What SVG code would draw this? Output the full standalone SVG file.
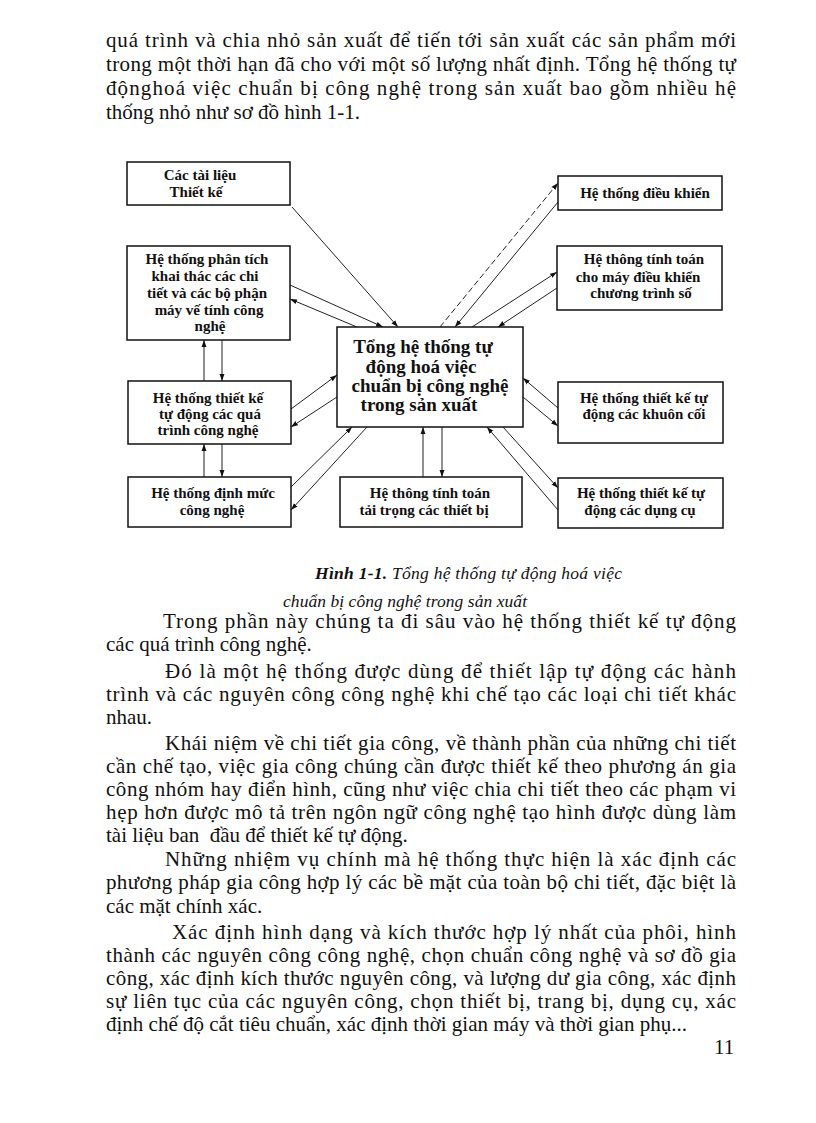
<svg xmlns="http://www.w3.org/2000/svg" width="816" height="1123" viewBox="0 0 816 1123">
<defs>
<marker id="ah" viewBox="0 0 10 10" refX="10" refY="5" markerWidth="7" markerHeight="7" markerUnits="userSpaceOnUse" orient="auto">
<path d="M0,1.5 L10,5 L0,8.5 Z" fill="#111"/>
</marker>
<style>
.body{font-family:"Liberation Serif","Times New Roman",serif;font-size:21px;fill:#111}
.cap{font-family:"Liberation Serif","Times New Roman",serif;font-size:17.5px;font-style:italic;fill:#111}
.box{fill:#fff;stroke:#111;stroke-width:1.5}
.bt{font-family:"Liberation Serif","Times New Roman",serif;font-size:15px;font-weight:bold;fill:#111;text-anchor:middle}
.ct{font-family:"Liberation Serif","Times New Roman",serif;font-size:19px;font-weight:bold;fill:#111;text-anchor:middle}
.cn{fill:none;stroke:#222;stroke-width:1;marker-end:url(#ah)}
</style>
</defs>
<rect width="816" height="1123" fill="#fff"/>

<g id="para1" class="body">
<text x="106" y="47" textLength="630" lengthAdjust="spacing">quá trình và chia nhỏ sản xuất để tiến tới sản xuất các sản phẩm mới</text>
<text x="106" y="71" textLength="630" lengthAdjust="spacing">trong một thời hạn đã cho với một số lượng nhất định. Tổng hệ thống tự</text>
<text x="106" y="95" textLength="630" lengthAdjust="spacing">độnghoá việc chuẩn bị công nghệ trong sản xuất bao gồm nhiều hệ</text>
<text x="106" y="119">thống nhỏ như sơ đồ hình 1-1.</text>
</g>

<g id="connectors">
<path class="cn" d="M292,207 L398,327"/>
<path class="cn" d="M290,285 L383,327"/>
<path class="cn" d="M357,327 L290,299"/>
<path class="cn" d="M440,327 L558,183" stroke-dasharray="6 3"/>
<path class="cn" d="M558,202 L455,327"/>
<path class="cn" d="M472,327 L557,272"/>
<path class="cn" d="M557,288 L498,327"/>
<path class="cn" d="M291,409 L337,375"/>
<path class="cn" d="M337,397 L291,427"/>
<path class="cn" d="M291,487 L352,427"/>
<path class="cn" d="M367,427 L291,510"/>
<path class="cn" d="M204,381 L204,340"/>
<path class="cn" d="M222,340 L222,381"/>
<path class="cn" d="M204,477 L204,444"/>
<path class="cn" d="M222,444 L222,477"/>
<path class="cn" d="M423,477 L423,427"/>
<path class="cn" d="M442,427 L442,477"/>
<path class="cn" d="M558,408 L523,378"/>
<path class="cn" d="M523,397 L558,426"/>
<path class="cn" d="M503,427 L558,488"/>
<path class="cn" d="M558,510 L487,427"/>
</g>

<g id="n-tailieu">
<rect class="box" x="127" y="162" width="163" height="43"/>
<text class="bt" x="200" y="180">Các tài liệu</text>
<text class="bt" x="196" y="197">Thiết kế</text>
</g>

<g id="n-phantich">
<rect class="box" x="127" y="246" width="163" height="94"/>
<text class="bt" x="207" y="264">Hệ thống phân tích</text>
<text class="bt" x="205" y="281">khai thác các chi</text>
<text class="bt" x="207" y="298">tiết và các bộ phận</text>
<text class="bt" x="209" y="315">máy vế tính công</text>
<text class="bt" x="210" y="331">nghệ</text>
</g>

<g id="n-quatrinh">
<rect class="box" x="128" y="381" width="163" height="63"/>
<text class="bt" x="208" y="403">Hệ thống thiết kế</text>
<text class="bt" x="210" y="419">tự động các quá</text>
<text class="bt" x="208" y="435">trình công nghệ</text>
</g>

<g id="n-dinhmuc">
<rect class="box" x="128" y="477" width="163" height="50"/>
<text class="bt" x="213" y="498">Hệ thống định mức</text>
<text class="bt" x="212" y="515">công nghệ</text>
</g>

<g id="n-center">
<rect class="box" x="337" y="327" width="186" height="100"/>
<text class="ct" x="423" y="353">Tổng hệ thống tự</text>
<text class="ct" x="421" y="373">động hoá việc</text>
<text class="ct" x="430" y="392">chuẩn bị công nghệ</text>
<text class="ct" x="419" y="411">trong sản xuất</text>
</g>

<g id="n-taitrong">
<rect class="box" x="340" y="477" width="182" height="50"/>
<text class="bt" x="430" y="498">Hệ thông tính toán</text>
<text class="bt" x="424" y="515">tải trọng các thiết bị</text>
</g>

<g id="n-dieukhien">
<rect class="box" x="558" y="176" width="164" height="34"/>
<text class="bt" x="645" y="198">Hệ thống điều khiển</text>
</g>

<g id="n-cnc">
<rect class="box" x="557" y="246" width="165" height="64"/>
<text class="bt" x="644" y="264">Hệ thông tính toán</text>
<text class="bt" x="638" y="282">cho máy điều khiển</text>
<text class="bt" x="641" y="298">chương trình số</text>
</g>

<g id="n-khuoncoi">
<rect class="box" x="558" y="382" width="165" height="61"/>
<text class="bt" x="644" y="403">Hệ thống thiết kế tự</text>
<text class="bt" x="644" y="419">động các khuôn cối</text>
</g>

<g id="n-dungcu">
<rect class="box" x="558" y="478" width="165" height="50"/>
<text class="bt" x="641" y="498">Hệ thống thiết kế tự</text>
<text class="bt" x="640" y="515">động các dụng cụ</text>
</g>

<g id="caption" class="cap">
<text x="315" y="579" textLength="307" lengthAdjust="spacing"><tspan font-weight="bold">Hình 1-1.</tspan> Tổng hệ thống tự động hoá việc</text>
<text x="283" y="607" textLength="244" lengthAdjust="spacing">chuẩn bị công nghệ trong sản xuất</text>
</g>

<g id="body" class="body">
<text x="163" y="628" textLength="573" lengthAdjust="spacing">Trong phần này chúng ta đi sâu vào hệ thống thiết kế tự động</text>
<text x="106" y="651">các quá trình công nghệ.</text>
<text x="165" y="678" textLength="571" lengthAdjust="spacing">Đó là một hệ thống được dùng để thiết lập tự động các hành</text>
<text x="106" y="701" textLength="630" lengthAdjust="spacing">trình và các nguyên công công nghệ khi chế tạo các loại chi tiết khác</text>
<text x="106" y="724">nhau.</text>
<text x="165" y="750" textLength="571" lengthAdjust="spacing">Khái niệm về chi tiết gia công, về thành phần của những chi tiết</text>
<text x="106" y="773" textLength="630" lengthAdjust="spacing">cần chế tạo, việc gia công chúng cần được thiết kế theo phương án gia</text>
<text x="106" y="796" textLength="630" lengthAdjust="spacing">công nhóm hay điển hình, cũng như việc chia chi tiết theo các phạm vi</text>
<text x="106" y="819" textLength="630" lengthAdjust="spacing">hẹp hơn được mô tả trên ngôn ngữ công nghệ tạo hình được dùng làm</text>
<text x="106" y="842" xml:space="preserve">tài liệu ban  đầu để thiết kế tự động.</text>
<text x="165" y="866" textLength="571" lengthAdjust="spacing">Những nhiệm vụ chính mà hệ thống thực hiện là xác định các</text>
<text x="106" y="889" textLength="630" lengthAdjust="spacing">phương pháp gia công hợp lý các bề mặt của toàn bộ chi tiết, đặc biệt là</text>
<text x="106" y="913">các mặt chính xác.</text>
<text x="172" y="939" textLength="564" lengthAdjust="spacing">Xác định hình dạng và kích thước hợp lý nhất của phôi, hình</text>
<text x="106" y="962" textLength="630" lengthAdjust="spacing">thành các nguyên công công nghệ, chọn chuẩn công nghệ và sơ đồ gia</text>
<text x="106" y="985" textLength="630" lengthAdjust="spacing">công, xác định kích thước nguyên công, và lượng dư gia công, xác định</text>
<text x="106" y="1008" textLength="630" lengthAdjust="spacing">sự liên tục của các nguyên công, chọn thiết bị, trang bị, dụng cụ, xác</text>
<text x="106" y="1031">định chế độ cắt tiêu chuẩn, xác định thời gian máy và thời gian phụ...</text>
<text x="714" y="1054">11</text>
</g>
</svg>
